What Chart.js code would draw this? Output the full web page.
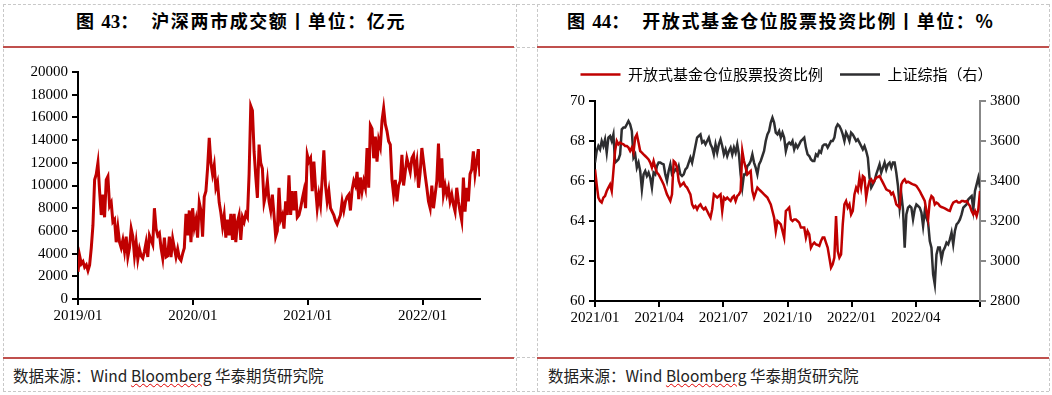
<!DOCTYPE html>
<html>
<head>
<meta charset="utf-8">
<script src="https://cdn.jsdelivr.net/npm/chart.js@4.4.0/dist/chart.umd.min.js"></script>
<style>
body { margin:0; background:#fff; width:1052px; height:395px; position:relative; overflow:hidden; font-family:"Noto Sans CJK SC", sans-serif; }
.dh { position:absolute; left:3px; width:1046px; height:0; border-top:1px dashed #c8c8c8; }
.dv { position:absolute; top:4px; height:387px; width:0; border-left:1px dashed #c8c8c8; }
.rule { position:absolute; height:2px; background:#c0504d; }
.title { position:absolute; top:7px; font-family:"Noto Sans CJK SC", sans-serif; font-weight:700; font-size:18px; letter-spacing:1.6px; color:#000; white-space:pre; }
.title .num { font-family:"Liberation Serif", serif; font-size:19px; letter-spacing:0; }
.src { position:absolute; top:364px; font-size:15.5px; color:#222; white-space:pre; }
.src u { text-decoration:underline wavy #e00000; text-decoration-thickness:1px; }
canvas { position:absolute; }
</style>
</head>
<body>
<div class="dh" style="top:4px"></div>
<div class="dh" style="top:47px"></div>
<div class="dh" style="top:357px"></div>
<div class="dh" style="top:391px"></div>
<div class="dv" style="left:3px"></div>
<div class="dv" style="left:516px"></div>
<div class="dv" style="left:537px"></div>
<div class="dv" style="left:1049px"></div>

<div class="rule" style="left:3px;width:511px;top:46px"></div>
<div class="rule" style="left:537px;width:512px;top:46px"></div>
<div class="rule" style="left:3px;width:511px;top:357px"></div>
<div class="rule" style="left:537px;width:512px;top:357px"></div>

<div class="title" style="left:76px">图 <span class="num">43</span>：  沪深两市成交额丨单位：亿元</div>
<div class="title" style="left:567px">图 <span class="num">44</span>：  开放式基金仓位股票投资比例丨单位：%</div>

<canvas id="leftChart" width="516" height="290" style="left:0;top:50px"></canvas>
<canvas id="rightChart" width="512" height="290" style="left:537px;top:50px"></canvas>

<div class="src" style="left:13px">数据来源：Wind <u>Bloomberg</u> 华泰期货研究院</div>
<div class="src" style="left:548px">数据来源：Wind <u>Bloomberg</u> 华泰期货研究院</div>

<script>
// 沪深两市成交额（亿元），2019/01 起约每周两点
var turnover = [
    2400, 3800, 3100, 3300, 2800, 3000, 2500, 3000, 4500, 6500,
    10500, 11000, 12000, 9500, 7400, 9200, 7200, 10500, 10800, 8200,
    8500, 6800, 7000, 5000, 6300, 5000, 4500, 5200, 4200, 5500,
    3700, 4500, 6200, 5500, 3800, 5000, 3500, 4400, 3800, 3600,
    4200, 5000, 3700, 5600, 5200, 4800, 8000, 6200, 5600, 5800,
    4500, 3600, 5400, 3700, 3800, 5500, 3700, 5300, 4500, 3700,
    4400, 3600, 3400, 4000, 4500, 7500, 5600, 7800, 5000, 8000,
    6300, 7000, 5400, 8500, 7800, 5500, 9000, 9500, 11500,
    14200, 12000, 11000, 11800, 9800, 10300, 8500, 7600, 6400, 7400,
    5400, 7000, 5600, 7500, 5200, 7500, 5000, 6800, 7400, 5200,
    7200, 6800, 7500, 7200, 11000, 17000, 16600, 13000, 10800, 8900,
    13600, 12000, 11500, 8500, 9200, 10400, 8600, 7800, 9200, 7400,
    5500, 6000, 9800, 7000, 7400, 6200, 8600, 7400, 10900, 7400,
    9500, 7800, 9500, 7200, 7400, 8000, 8800, 9500, 8000, 12700,
    12100, 12400, 9500, 12100, 9800, 8000, 9200, 8300, 10600, 13100,
    10000, 8600, 9500, 8000, 7700, 7400, 6900, 6600, 7000, 7400,
    8600, 7800, 8600, 9000,
    9200, 7800, 9600, 10400, 10000, 11200, 8800, 10700, 9500, 10400,
    9800, 13300, 9800, 15300, 15000, 12400, 14300, 12100, 14000, 13400,
    15700, 16800, 15400, 14800, 13900, 13600, 10500, 9200, 10500, 8600,
    10000, 10400, 12700, 10000, 11200, 12400, 11800, 11200, 12400, 12700,
    11200, 12100, 9800, 11200, 13300, 12100, 10900, 9800, 8600, 8000,
    10000, 8000, 9200, 10400, 13700, 9800, 12400, 9200, 10000, 9200,
    9800, 8600, 9200, 8300, 7700, 9800, 8600, 7700, 6900, 10700,
    7700, 9800, 8600, 11000, 11400, 13000, 11000, 12100, 13200, 10800
];
var turnoverMonths = 42;               // 2019/01 ~ 2022/06
var turnoverTickLabels = ['2019/01', '2020/01', '2021/01', '2022/01'];

// 开放式基金仓位股票投资比例（%），2021/01 ~ 2022/06
var fundPosition = [
    66.58, 65.83, 65.17, 65.00, 64.92, 65.17, 65.25, 65.50, 65.67, 65.83,
    65.50, 66.50, 67.50, 68.00, 67.83, 67.92, 67.87, 67.83, 67.75, 67.75,
    67.67, 67.50, 67.67, 67.42, 68.17, 68.33, 67.92, 67.50, 67.42, 67.33,
    67.25, 67.17, 67.08, 66.92, 66.67, 67.00, 66.67, 66.42, 66.33, 66.17,
    66.00, 65.83, 65.58, 65.33, 65.17, 65.00, 65.33, 67.00, 66.92, 66.67,
    66.00, 65.75, 65.83, 65.92, 65.75, 65.67, 65.50, 65.33, 64.83, 64.67,
    64.75, 64.58, 64.75, 64.83, 64.67, 64.58, 64.67, 64.50, 64.33, 64.17,
    64.58, 65.33, 65.25, 65.17, 65.25, 65.33, 64.50, 65.17, 65.08, 65.17,
    65.08, 65.00, 65.17, 65.25, 65.00, 65.25, 65.33, 65.50, 67.50, 67.00,
    66.67, 66.33, 66.42, 66.50, 65.50, 65.17, 65.42, 65.67, 65.58, 65.50,
    65.42, 65.33, 65.25, 65.17, 65.00, 64.83, 64.50, 64.17, 63.50, 64.00,
    63.92, 63.83, 63.50, 63.17, 64.50, 64.58, 64.67,
    64.08, 64.00, 64.08, 64.08, 64.00, 63.92, 63.67, 63.67, 63.67, 63.17,
    63.50, 63.33, 62.67, 62.83, 62.92, 62.83, 62.80, 62.75, 63.00, 63.17,
    63.17, 62.92, 62.67, 62.17, 61.67, 61.83, 62.17, 64.25, 62.50, 62.17,
    62.33, 63.83, 64.83, 65.00, 64.67, 64.83, 64.33, 64.50, 65.33, 65.67,
    65.50, 66.17, 65.67, 66.25, 66.17, 65.17, 65.67, 66.00, 66.08, 65.92,
    66.03, 66.17, 66.20, 66.25, 66.08, 65.92, 65.75, 65.58, 65.53, 65.50,
    65.33, 65.42, 65.17, 64.83, 64.75, 64.67, 65.83, 66.00, 66.08, 65.92,
    65.97, 65.92, 65.87, 65.83, 65.80, 65.75, 65.63, 65.50, 65.33, 65.17,
    65.00, 64.50, 64.08, 65.00, 65.25, 65.17, 64.83, 64.92, 64.87, 64.75,
    64.70, 64.67, 64.63, 64.58, 64.53, 64.50, 64.75, 64.92, 64.97, 65.00,
    64.92, 64.92, 65.00, 65.00, 64.97, 65.00, 64.87, 64.75, 64.50, 64.33,
    64.50, 64.25, 64.58, 65.50
];

// 上证综指（右轴）
var shIndex = [
    3492, 3550, 3575, 3558, 3600, 3575, 3608, 3542, 3617, 3625,
    3600, 3633, 3492, 3500, 3508, 3533, 3658, 3667, 3667, 3683,
    3700, 3683, 3650, 3517, 3533, 3467, 3492, 3450, 3358, 3433,
    3450, 3425, 3442, 3417, 3367, 3442, 3433, 3475, 3492, 3492,
    3487, 3483, 3433, 3400, 3450, 3483, 3433, 3442, 3458, 3450,
    3475, 3433, 3425, 3433, 3458, 3467, 3492, 3517, 3492, 3533,
    3575, 3617, 3625, 3633, 3592, 3600, 3583, 3600, 3617, 3583,
    3567, 3533, 3583, 3542, 3583, 3608, 3575, 3533, 3558, 3525,
    3550, 3567, 3533, 3567, 3542, 3583, 3533, 3433, 3367, 3433,
    3433, 3475, 3483, 3500, 3533, 3492, 3467, 3433, 3483, 3500,
    3525, 3550, 3600, 3633, 3650, 3692, 3717, 3692, 3642, 3633,
    3650, 3617, 3642, 3617, 3550, 3583, 3592,
    3583, 3600, 3558, 3583, 3567, 3583, 3600, 3608, 3617, 3567,
    3533, 3525, 3508, 3500, 3500, 3533, 3525, 3550, 3542, 3575,
    3583, 3583, 3567, 3583, 3600, 3600, 3617, 3667, 3683, 3675,
    3658, 3633, 3600, 3642, 3625, 3600, 3642, 3633, 3617, 3600,
    3608, 3592, 3575, 3558, 3575, 3550, 3517, 3417, 3367, 3383,
    3400, 3433, 3458, 3483, 3442, 3467, 3492, 3458, 3483, 3492,
    3467, 3492, 3492, 3442, 3375, 3267, 3333, 3258, 3067, 3233,
    3267, 3275, 3267, 3208, 3258, 3283, 3275, 3267, 3242, 3175,
    3250, 3217, 3192, 3100, 3067, 2933, 2883, 3033, 3067, 3067,
    3008, 3050, 3067, 3092, 3083, 3108, 3142, 3083, 3150, 3183,
    3192, 3208, 3233, 3267, 3275, 3283, 3308, 3317, 3325, 3258,
    3350, 3383, 3417, 3367
];
var fundMonths = 18;                   // 2021/01 ~ 2022/06
var fundTickLabels = ['2021/01', '2021/04', '2021/07', '2021/10', '2022/01', '2022/04', ''];

var serifFont = { family: '"Liberation Serif", "Times New Roman", serif', size: 15 };

// 等间隔的序列 -> {x, y}，x 单位为月
function toPoints(values, months) {
    var pts = [];
    for (var i = 0; i < values.length; i++) {
        pts.push({ x: i * months / (values.length - 1), y: values[i] });
    }
    return pts;
}

function monthTicks(months, step) {
    var t = [];
    for (var m = 0; m <= months; m += step) t.push({ value: m });
    return t;
}

function axisGrid(color) {
    return { drawOnChartArea: false, drawTicks: true, tickLength: 6, color: color, lineWidth: 2 };
}

function plainNumber(v) { return String(v); }

// 图例下方多留一点空
var legendGap = {
    id: 'legendGap',
    beforeInit: function(chart) {
        var fit = chart.legend.fit;
        chart.legend.fit = function() {
            fit.call(this);
            this.height += 9;
        };
    }
};

// 左图：沪深两市成交额
new Chart(document.getElementById('leftChart'), {
    type: 'line',
    data: {
        datasets: [{
            data: toPoints(turnover, turnoverMonths),
            borderColor: '#c00000',
            borderWidth: 3,
            pointRadius: 0,
            tension: 0
        }]
    },
    options: {
        responsive: false, animation: false, events: [],
        layout: { padding: { left: 0, right: 36, top: 22, bottom: 13 } },
        plugins: { legend: { display: false }, tooltip: { enabled: false } },
        scales: {
            x: {
                type: 'linear', min: 0, max: turnoverMonths,
                afterBuildTicks: function(s) { s.ticks = monthTicks(36, 12); },
                ticks: {
                    autoSkip: false, maxRotation: 0, color: '#000', font: serifFont, padding: 2,
                    callback: function(v, i) { return turnoverTickLabels[i]; }
                },
                grid: axisGrid('#000'),
                border: { color: '#000', width: 2 }
            },
            y: {
                min: 0, max: 20000,
                ticks: { stepSize: 2000, color: '#000', font: serifFont, padding: 4, callback: plainNumber },
                grid: axisGrid('#000'),
                border: { color: '#000', width: 2 },
                afterFit: function(s) { s.width = 78; }
            }
        }
    }
});

// 右图：基金仓位 vs 上证综指
new Chart(document.getElementById('rightChart'), {
    type: 'line',
    data: {
        datasets: [{
            label: '开放式基金仓位股票投资比例',
            data: toPoints(fundPosition, fundMonths),
            yAxisID: 'y',
            borderColor: '#c00000',
            backgroundColor: '#c00000',
            borderWidth: 2.5,
            pointRadius: 0,
            tension: 0
        }, {
            label: '上证综指（右）',
            data: toPoints(shIndex, fundMonths),
            yAxisID: 'y2',
            borderColor: '#2e2e30',
            backgroundColor: '#2e2e30',
            borderWidth: 2.5,
            pointRadius: 0,
            tension: 0
        }]
    },
    plugins: [legendGap],
    options: {
        responsive: false, animation: false, events: [],
        layout: { padding: { left: 6, right: 19, top: 0, bottom: 11 } },
        plugins: {
            tooltip: { enabled: false },
            legend: {
                display: true, position: 'top',
                labels: {
                    usePointStyle: true, pointStyle: 'line', pointStyleWidth: 40,
                    color: '#000', padding: 17,
                    font: { family: '"Noto Sans CJK SC", sans-serif', size: 15 }
                }
            }
        },
        scales: {
            x: {
                type: 'linear', min: 0, max: fundMonths,
                afterBuildTicks: function(s) { s.ticks = monthTicks(fundMonths, 3); },
                ticks: {
                    autoSkip: false, maxRotation: 0, color: '#000', font: serifFont, padding: 2,
                    callback: function(v, i) { return fundTickLabels[i]; }
                },
                grid: axisGrid('#000'),
                border: { color: '#000', width: 2 }
            },
            y: {
                position: 'left', min: 60, max: 70,
                ticks: { stepSize: 2, color: '#000', font: serifFont, padding: 4, callback: plainNumber },
                grid: axisGrid('#000'),
                border: { color: '#000', width: 2 },
                afterFit: function(s) { s.width = 52; }
            },
            y2: {
                position: 'right', min: 2800, max: 3800,
                ticks: { stepSize: 200, color: '#000', font: serifFont, padding: 4, callback: plainNumber },
                grid: axisGrid('#888'),
                border: { color: '#888', width: 2 },
                afterFit: function(s) { s.width = 50; }
            }
        }
    }
});
</script>
</body>
</html>
